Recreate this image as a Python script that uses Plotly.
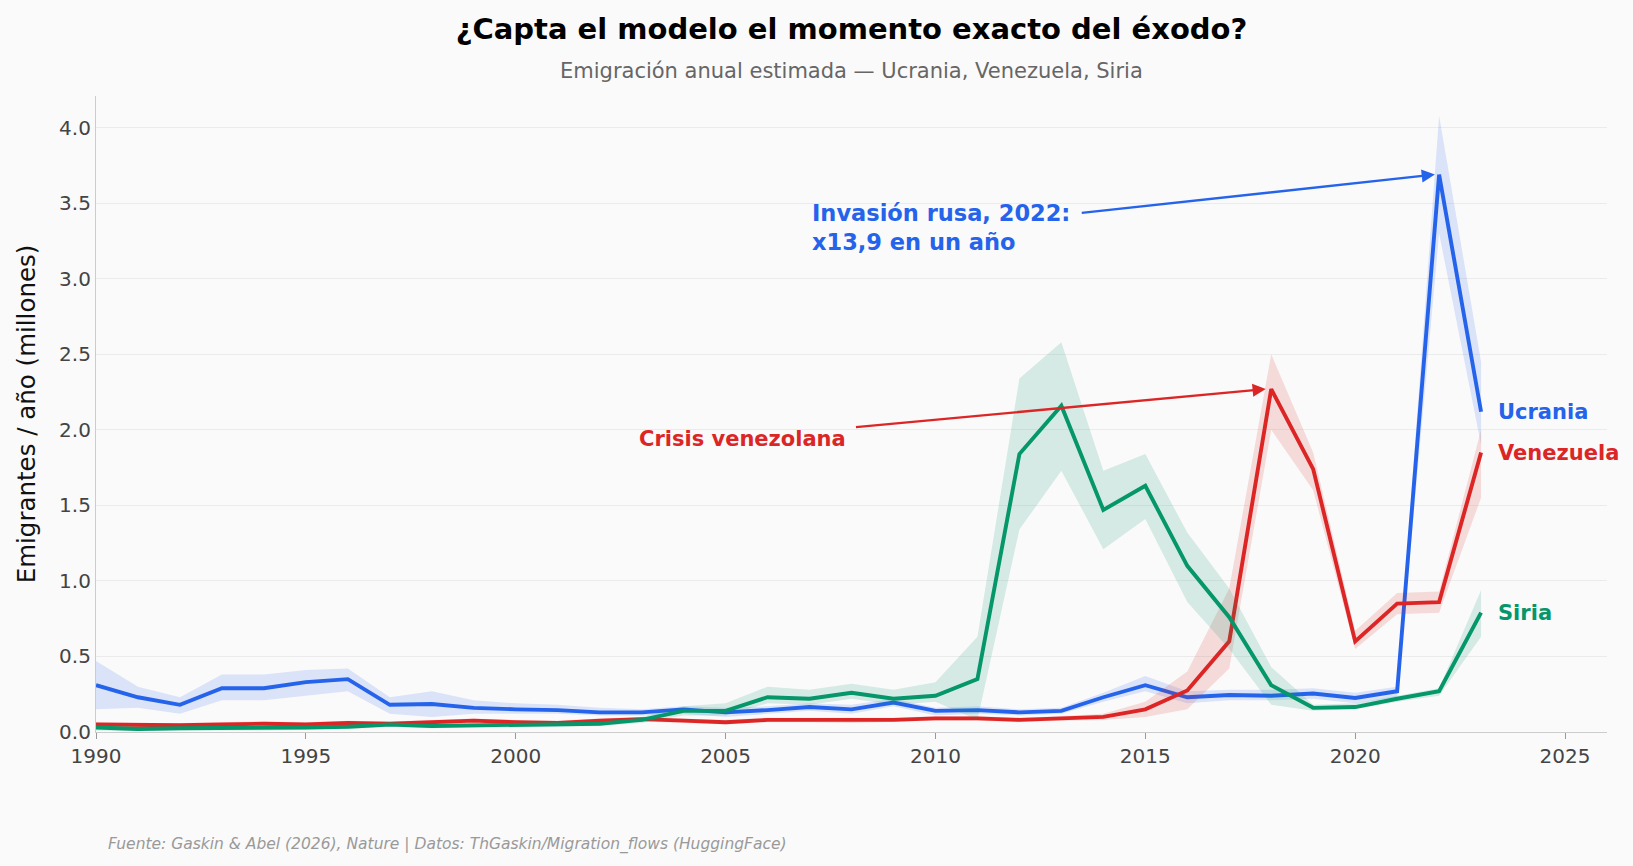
import plotly.graph_objects as go

years = list(range(1990, 2024))

ucrania = [0.31, 0.23, 0.18, 0.29, 0.29, 0.33, 0.35, 0.18, 0.185, 0.16, 0.15, 0.145, 0.13, 0.13,
           0.15, 0.13, 0.145, 0.165, 0.15, 0.195, 0.14, 0.145, 0.13, 0.14, 0.23, 0.31, 0.23, 0.245,
           0.24, 0.255, 0.225, 0.27, 3.69, 2.12]
ucrania_lo = [0.15, 0.16, 0.12, 0.21, 0.21, 0.24, 0.27, 0.12, 0.10, 0.12, 0.12, 0.12, 0.11, 0.11,
              0.12, 0.10, 0.12, 0.14, 0.12, 0.17, 0.11, 0.12, 0.11, 0.12, 0.20, 0.27, 0.19, 0.21,
              0.21, 0.22, 0.19, 0.23, 3.30, 1.90]
ucrania_hi = [0.47, 0.30, 0.23, 0.38, 0.38, 0.41, 0.42, 0.23, 0.27, 0.21, 0.19, 0.18, 0.16, 0.15,
              0.17, 0.16, 0.17, 0.19, 0.18, 0.22, 0.16, 0.17, 0.15, 0.16, 0.26, 0.37, 0.27, 0.28,
              0.28, 0.29, 0.26, 0.30, 4.08, 2.45]

venezuela = [0.05, 0.045, 0.045, 0.05, 0.055, 0.05, 0.06, 0.055, 0.065, 0.075, 0.065, 0.06, 0.075,
             0.085, 0.075, 0.065, 0.08, 0.08, 0.075, 0.08, 0.09, 0.09, 0.08, 0.09, 0.10, 0.15, 0.275,
             0.60, 2.27, 1.74, 0.60, 0.85, 0.86, 1.85]
venezuela_lo = [0.035, 0.03, 0.03, 0.035, 0.04, 0.035, 0.045, 0.04, 0.05, 0.06, 0.05, 0.045, 0.06,
                0.07, 0.06, 0.05, 0.065, 0.065, 0.06, 0.065, 0.075, 0.075, 0.065, 0.075, 0.08, 0.10,
                0.15, 0.42, 2.00, 1.60, 0.55, 0.78, 0.79, 1.55]
venezuela_hi = [0.065, 0.06, 0.06, 0.065, 0.07, 0.065, 0.075, 0.07, 0.08, 0.09, 0.08, 0.075, 0.09,
                0.10, 0.09, 0.08, 0.095, 0.095, 0.09, 0.095, 0.105, 0.105, 0.095, 0.105, 0.12, 0.20,
                0.40, 0.95, 2.50, 1.85, 0.67, 0.92, 0.93, 2.00]

siria = [0.03, 0.02, 0.025, 0.025, 0.025, 0.03, 0.035, 0.05, 0.04, 0.045, 0.045, 0.05, 0.055, 0.08,
         0.14, 0.14, 0.23, 0.22, 0.26, 0.22, 0.24, 0.35, 1.84, 2.16, 1.47, 1.63, 1.10, 0.76, 0.31,
         0.16, 0.165, 0.22, 0.27, 0.79]
siria_lo = [0.01, 0.005, 0.01, 0.01, 0.01, 0.015, 0.02, 0.035, 0.025, 0.03, 0.03, 0.035, 0.04, 0.06,
            0.11, 0.11, 0.19, 0.18, 0.22, 0.18, 0.20, 0.08, 1.34, 1.73, 1.21, 1.41, 0.86, 0.55, 0.18,
            0.14, 0.15, 0.20, 0.24, 0.63]
siria_hi = [0.05, 0.04, 0.04, 0.04, 0.04, 0.045, 0.05, 0.065, 0.055, 0.06, 0.06, 0.065, 0.07, 0.10,
            0.17, 0.19, 0.30, 0.28, 0.32, 0.28, 0.33, 0.63, 2.34, 2.58, 1.73, 1.84, 1.32, 0.95, 0.43,
            0.18, 0.19, 0.24, 0.29, 0.94]

x_ticks = [1990, 1995, 2000, 2005, 2010, 2015, 2020, 2025]
y_ticks = [0.0, 0.5, 1.0, 1.5, 2.0, 2.5, 3.0, 3.5, 4.0]

series = [
    ("Ucrania", ucrania, ucrania_lo, ucrania_hi, "#2563eb", "rgba(37,99,235,0.15)"),
    ("Venezuela", venezuela, venezuela_lo, venezuela_hi, "#dc2626", "rgba(220,38,38,0.15)"),
    ("Siria", siria, siria_lo, siria_hi, "#059669", "rgba(5,150,105,0.15)"),
]

FONT = "DejaVu Sans"
W, H = 1633, 866
ML, MR, MT, MB = 96, 26, 96, 134
PW, PH = W - ML - MR, H - MT - MB

fig = go.Figure()

for name, vals, lo, hi, color, fill in series:
    fig.add_trace(go.Scatter(x=years, y=lo, mode="lines", line=dict(width=0),
                             showlegend=False, hoverinfo="skip"))
    fig.add_trace(go.Scatter(x=years, y=hi, mode="lines", line=dict(width=0),
                             fill="tonexty", fillcolor=fill, showlegend=False, hoverinfo="skip"))
    fig.add_trace(go.Scatter(x=years, y=vals, mode="lines", name=name,
                             line=dict(color=color, width=3.9), showlegend=False))

annotations = []
for name, vals, lo, hi, color, fill in series:
    annotations.append(dict(x=years[-1] + 0.35, y=vals[-1], xref="x", yref="y", text=f"<b>{name}</b>",
                            showarrow=False, xanchor="left", yanchor="middle",
                            font=dict(family=FONT, size=21, color=color)))

annotations.append(dict(x=2021.9, y=3.69, ax=2013.45, ay=3.435, xref="x", yref="y", axref="x", ayref="y",
                        text="", showarrow=True, arrowhead=2, arrowsize=1.1, arrowwidth=2.4,
                        arrowcolor="#2563eb"))
annotations.append(dict(x=2017.87, y=2.27, ax=2008.07, ay=2.017, xref="x", yref="y", axref="x", ayref="y",
                        text="", showarrow=True, arrowhead=2, arrowsize=1.1, arrowwidth=2.4,
                        arrowcolor="#dc2626"))
annotations.append(dict(x=2007.0, y=3.34, xref="x", yref="y", showarrow=False, xanchor="left",
                        yanchor="middle", align="left",
                        text="<b>Invasión rusa, 2022:<br>x13,9 en un año</b>",
                        font=dict(family=FONT, size=22.5, color="#2563eb")))
annotations.append(dict(x=2007.92, y=1.94, xref="x", yref="y", showarrow=False, xanchor="right",
                        yanchor="middle", text="<b>Crisis venezolana</b>",
                        font=dict(family=FONT, size=21, color="#dc2626")))
# subtitle
annotations.append(dict(x=0.5, y=1, xref="paper", yref="paper", yshift=25, showarrow=False,
                        xanchor="center", yanchor="middle",
                        text="Emigración anual estimada — Ucrania, Venezuela, Siria",
                        font=dict(family=FONT, size=21, color="#666666")))
# footnote
annotations.append(dict(x=(106 - ML) / PW, y=(H - 844 - MB) / PH, xref="paper", yref="paper",
                        showarrow=False, xanchor="left", yanchor="middle",
                        text="<i>Fuente: Gaskin & Abel (2026), Nature | Datos: ThGaskin/Migration_flows (HuggingFace)</i>",
                        font=dict(family=FONT, size=15.5, color="#999999")))

fig.update_layout(
    width=W, height=H,
    margin=dict(l=ML, r=MR, t=MT, b=MB),
    paper_bgcolor="#fafafa", plot_bgcolor="#fafafa",
    font=dict(family=FONT, size=20, color="#444444"),
    title=dict(text="<b>¿Capta el modelo el momento exacto del éxodo?</b>",
               x=(ML + W - MR) / 2 / W, xanchor="center", y=1 - 29 / H, yanchor="middle",
               font=dict(family=FONT, size=29, color="#000000")),
    showlegend=False,
    xaxis=dict(range=[1990, 2026], tickvals=x_ticks, ticktext=[str(t) for t in x_ticks],
               showgrid=False, zeroline=False, showline=True, linecolor="#cccccc", linewidth=1.2,
               ticks="outside", ticklen=6, tickcolor="#999999",
               tickfont=dict(family=FONT, size=20, color="#444444")),
    yaxis=dict(range=[0, 4.21], tickvals=y_ticks, ticktext=[f"{t:.1f}" for t in y_ticks],
               showgrid=True, gridcolor="#ebebeb", gridwidth=1, zeroline=False,
               showline=True, linecolor="#cccccc", linewidth=1.2, ticks="",
               tickfont=dict(family=FONT, size=20, color="#444444"),
               title=dict(text="Emigrantes / año (millones)", standoff=16,
                          font=dict(family=FONT, size=24.5, color="#111111"))),
    annotations=annotations,
)

fig.write_html("out.html")
